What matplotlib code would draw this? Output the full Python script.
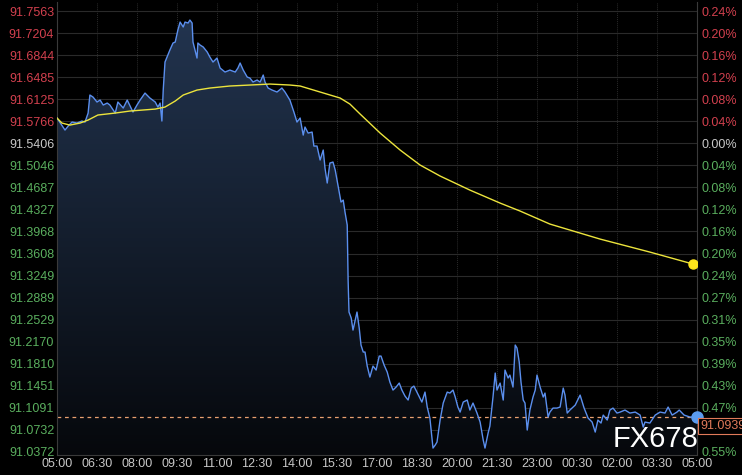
"""USD index intraday chart: price line with gradient fill, average line, dual price / percent axes."""

import matplotlib

matplotlib.use("Agg")
import matplotlib.pyplot as plt
import numpy as np
from matplotlib.colors import LinearSegmentedColormap

# minutes after 05:00 and price
PRICE_MINUTES = [
    0, 9, 18, 27, 34, 45, 56, 63, 70, 74, 81, 90, 97, 104, 113, 119, 131, 137, 149, 158,
    171, 180, 187, 198, 209, 221, 227, 232, 236, 239, 243, 254, 261, 266, 272, 277, 284, 288, 295, 299,
    304, 306, 315, 317, 322, 329, 338, 344, 351, 360, 367, 378, 389, 401, 407, 412, 419, 428, 434, 441,
    450, 457, 464, 468, 475, 484, 495, 506, 513, 524, 533, 540, 547, 554, 558, 565, 574, 578, 585, 592,
    599, 603, 608, 614, 621, 626, 630, 635, 639, 644, 648, 653, 655, 657, 662, 666, 671, 675, 680, 684,
    689, 693, 698, 704, 711, 718, 725, 729, 736, 743, 749, 756, 763, 770, 776, 783, 790, 797, 803, 812,
    821, 828, 833, 839, 846, 851, 855, 862, 869, 878, 884, 891, 896, 902, 907, 914, 923, 929, 936, 945,
    952, 959, 963, 970, 974, 981, 986, 990, 997, 1004, 1008, 1015, 1019, 1026, 1031, 1035, 1040, 1044, 1049, 1053,
    1058, 1064, 1071, 1076, 1080, 1087, 1094, 1098, 1105, 1109, 1116, 1125, 1132, 1139, 1143, 1148, 1154, 1166, 1177, 1186,
    1195, 1204, 1211, 1217, 1224, 1229, 1238, 1244, 1251, 1260, 1267, 1278, 1289, 1301, 1312, 1319, 1323, 1334, 1346, 1357,
    1368, 1375, 1384, 1395, 1400, 1411, 1424, 1440,
]
PRICES = [
    91.5818, 91.5720, 91.5622, 91.5703, 91.5752, 91.5736, 91.5769, 91.5752, 91.5899, 91.6193,
    91.6160, 91.6079, 91.6111, 91.6030, 91.6062, 91.6030, 91.5899, 91.6079, 91.5981, 91.6111,
    91.5916, 91.6030, 91.6111, 91.6225, 91.6144, 91.6079, 91.5997, 91.6062, 91.5769, 91.6274,
    91.6731, 91.6927, 91.7041, 91.7057, 91.7253, 91.7383, 91.7302, 91.7383, 91.7367, 91.7416,
    91.7367, 91.7057, 91.6796, 91.7041, 91.7008, 91.6976, 91.6894, 91.6812, 91.6731, 91.6796,
    91.6633, 91.6568, 91.6600, 91.6568, 91.6633, 91.6715, 91.6600, 91.6486, 91.6470, 91.6405,
    91.6437, 91.6405, 91.6519, 91.6405, 91.6307, 91.6274, 91.6242, 91.6307, 91.6242, 91.6111,
    91.5916, 91.5752, 91.5818, 91.5540, 91.5671, 91.5573, 91.5589, 91.5361, 91.5361, 91.5133,
    91.5296, 91.5002, 91.4758, 91.5084, 91.5100, 91.4970, 91.4807, 91.4611, 91.4448, 91.4480,
    91.4285, 91.4073, 91.3176, 91.2654, 91.2556, 91.2360, 91.2523, 91.2654, 91.2393, 91.2116,
    91.2002, 91.2002, 91.1773, 91.1594, 91.1773, 91.1708, 91.1936, 91.1936, 91.1790, 91.1675,
    91.1512, 91.1382, 91.1431, 91.1496, 91.1382, 91.1284, 91.1219, 91.1414, 91.1447, 91.1317,
    91.1186, 91.1349, 91.1105, 91.0925, 91.0436, 91.0485, 91.0534, 91.0893, 91.1170, 91.1349,
    91.1333, 91.1382, 91.1268, 91.1105, 91.1023, 91.1186, 91.1219, 91.1056, 91.1170, 91.1007,
    91.0860, 91.0566, 91.0436, 91.0681, 91.0795, 91.1268, 91.1659, 91.1382, 91.1496, 91.1219,
    91.1708, 91.1578, 91.1626, 91.1431, 91.2116, 91.2067, 91.1839, 91.1512, 91.1219, 91.1170,
    91.0730, 91.1056, 91.1268, 91.1382, 91.1626, 91.1431, 91.1268, 91.1333, 91.0942, 91.1023,
    91.1088, 91.1088, 91.1105, 91.1414, 91.1300, 91.1007, 91.1056, 91.1137, 91.1300, 91.1088,
    91.0925, 91.0860, 91.0697, 91.0893, 91.0844, 91.0974, 91.0893, 91.1056, 91.1088, 91.1007,
    91.1023, 91.1056, 91.1007, 91.1023, 91.0974, 91.0778, 91.0860, 91.0844, 91.0974, 91.1023,
    91.1007, 91.1105, 91.0974, 91.1023, 91.1056, 91.0974, 91.0942, 91.0939,
]

AVG_MINUTES = [0, 11, 29, 52, 70, 92, 131, 164, 221, 243, 266, 284, 315, 344, 389, 434, 479, 524, 547, 592,
               637, 659, 682, 727, 772, 817, 862, 929, 997, 1042, 1109, 1222, 1334, 1431]
AVG_PRICES = [91.5818, 91.5736, 91.5703, 91.5736, 91.5785, 91.5867, 91.5899, 91.5932, 91.5964, 91.5997,
              91.6095, 91.6193, 91.6274, 91.6307, 91.6340, 91.6356, 91.6372, 91.6356, 91.6340, 91.6242,
              91.6144, 91.6046, 91.5883, 91.5573, 91.5296, 91.5051, 91.4872, 91.4643, 91.4431, 91.4301,
              91.4089, 91.3844, 91.3632, 91.3437]

BASE_PRICE = 91.5406
LAST_PRICE = 91.0939
PRICE_TICKS = [91.0372, 91.0732, 91.1091, 91.1451, 91.1810, 91.2170, 91.2529, 91.2889, 91.3249, 91.3608,
               91.3968, 91.4327, 91.4687, 91.5046, 91.5406, 91.5766, 91.6125, 91.6485, 91.6844, 91.7204, 91.7563]
PCT_LABELS = ["0.55%", "0.51%", "0.47%", "0.43%", "0.39%", "0.35%", "0.31%", "0.27%", "0.24%", "0.20%",
              "0.16%", "0.12%", "0.08%", "0.04%", "0.00%", "0.04%", "0.08%", "0.12%", "0.16%", "0.20%", "0.24%"]
TIME_LABELS = ["05:00", "06:30", "08:00", "09:30", "11:00", "12:30", "14:00", "15:30", "17:00",
               "18:30", "20:00", "21:30", "23:00", "00:30", "02:00", "03:30", "05:00"]

RED, GREEN, GREY = "#d2404e", "#5aae5e", "#c8c8c8"

plt.rcParams["font.family"] = ["Liberation Sans", "DejaVu Sans"]
fig = plt.figure(figsize=(7.42, 4.75), dpi=100, facecolor="black")
ax = fig.add_axes([57 / 742, 20 / 475, 640 / 742, 453 / 475], facecolor="black")

hours = np.array(PRICE_MINUTES) / 60
avg_hours = np.array(AVG_MINUTES) / 60
y_lo, y_hi = 91.0323, 91.7710
ax.set_xlim(0, 24)
ax.set_ylim(y_lo, y_hi)

# grid
for p in PRICE_TICKS:
    ax.axhline(p, color="#2a2a2a", lw=0.8, zorder=0)
for i in range(len(TIME_LABELS)):
    ax.axvline(i * 1.5, color="#2a2a2a", lw=0.7, ls=(0, (1, 1)), zorder=0)

# gradient fill under the price line
cmap = LinearSegmentedColormap.from_list("fill", ["#06080c", "#22344f"])
gradient = np.linspace(0, 1, 256).reshape(-1, 1)
image = ax.imshow(gradient, extent=[0, 24, y_lo, max(PRICES)], origin="lower", aspect="auto",
                  cmap=cmap, zorder=1)
area = ax.fill_between(hours, PRICES, y_lo, color="none", lw=0)
image.set_clip_path(area.get_paths()[0], transform=ax.transData)

ax.plot(hours, PRICES, color="#5b8fee", lw=1.0, zorder=3)
ax.plot(avg_hours, AVG_PRICES, color="#ece43c", lw=1.0, zorder=4)
ax.plot(avg_hours[-1], AVG_PRICES[-1], "o", color="#ffe61c", ms=6.5, zorder=5)
ax.plot(hours[-1], PRICES[-1], "o", color="#5b9cf0", ms=8, zorder=5, clip_on=False)
ax.axhline(LAST_PRICE, color="#e8a070", lw=0.9, ls=(0, (3, 3)), zorder=2)

ax.spines["top"].set_visible(False)
for side in ["left", "right", "bottom"]:
    ax.spines[side].set_color("#3a3a3a")

ax.set_xticks([i * 1.5 for i in range(len(TIME_LABELS))], TIME_LABELS)
ax.tick_params(axis="x", length=0, pad=2, labelsize=9, labelcolor=GREY)
ax.set_yticks(PRICE_TICKS, [f"{p:.4f}" for p in PRICE_TICKS])
ax.tick_params(axis="y", length=0, pad=2, labelsize=9)
for label, p in zip(ax.get_yticklabels(), PRICE_TICKS):
    label.set_color(RED if p > BASE_PRICE + 1e-6 else GREEN if p < BASE_PRICE - 1e-6 else GREY)

right = ax.twinx()
right.set_ylim(y_lo, y_hi)
right.set_yticks(PRICE_TICKS, PCT_LABELS)
right.tick_params(axis="y", length=0, pad=3, labelsize=9)
for label, p in zip(right.get_yticklabels(), PRICE_TICKS):
    label.set_color(RED if p > BASE_PRICE + 1e-6 else GREEN if p < BASE_PRICE - 1e-6 else GREY)
    # the current-price tag sits over the level just below the last price in the original
    if 0 < LAST_PRICE - p < 0.036:
        label.set_visible(False)
for spine in right.spines.values():
    spine.set_visible(False)

# current price tag and watermark
fig.text(700 / 742, 1 - 426 / 475, f"{LAST_PRICE:.4f}", color="#e07a5a", fontsize=9, va="center",
         ha="left", bbox=dict(boxstyle="square,pad=0.15", fc="black", ec="#e07a5a", lw=0.8), zorder=10)
fig.text(656 / 742, 1 - 439 / 475, "FX678", color="white", fontsize=21, ha="center", va="center",
         zorder=10)

fig.savefig("out.png", dpi=100, facecolor="black")
